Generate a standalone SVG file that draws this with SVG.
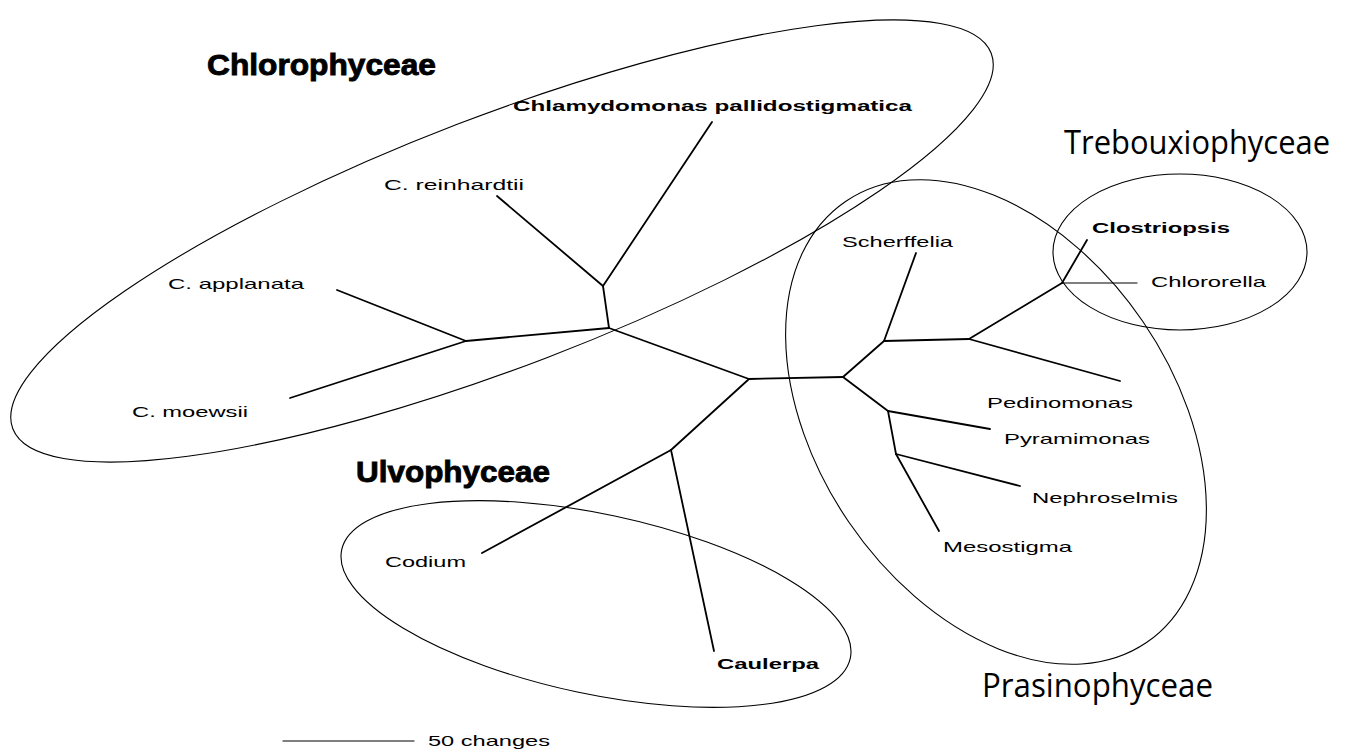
<svg xmlns="http://www.w3.org/2000/svg" width="1345" height="750" viewBox="0 0 1345 750">
<style>
.bg{fill:#fff}
.ell{fill:none;stroke:#000;stroke-width:1.1}
.br{fill:none;stroke:#000;stroke-width:1.8;stroke-linecap:round}
.lab{font-family:"Liberation Sans",Arial,sans-serif;font-size:15px;fill:#000}
.b{font-weight:bold;font-size:14.5px}
.grp{font-family:"Liberation Sans",Arial,sans-serif;font-weight:bold;font-size:30px;fill:#000;stroke:#000;stroke-width:0.9}
.cls{font-family:"Open Sans","Noto Sans",sans-serif;font-size:32px;fill:#000}
</style>
<rect class="bg" x="0" y="0" width="1345" height="750"/>
<g id="clade-ellipses">
<ellipse id="ell-chlorophyceae" class="ell" cx="502" cy="241" rx="524" ry="125" transform="rotate(-21 502 241)"/>
<ellipse id="ell-ulvophyceae" class="ell" cx="596" cy="604" rx="260" ry="90" transform="rotate(12 596 604)"/>
<ellipse id="ell-prasinophyceae" class="ell" cx="996" cy="422" rx="267" ry="178" transform="rotate(55.7 996 422)"/>
<ellipse id="ell-trebouxiophyceae" class="ell" cx="1180" cy="252" rx="127" ry="78"/>
</g>
<g id="connectors">
<line class="br" x1="712" y1="122" x2="603" y2="286"/>
<line class="br" x1="497" y1="196" x2="603" y2="286"/>
<line class="br" x1="603" y1="286" x2="609" y2="328"/>
<line class="br" x1="609" y1="328" x2="466" y2="341"/>
<line class="br" x1="466" y1="341" x2="337" y2="290"/>
<line class="br" x1="466" y1="341" x2="290" y2="398"/>
<line class="br" x1="609" y1="328" x2="749" y2="379"/>
<line class="br" x1="749" y1="379" x2="843" y2="377"/>
<line class="br" x1="749" y1="379" x2="671" y2="450"/>
<line class="br" x1="671" y1="450" x2="482" y2="553"/>
<line class="br" x1="671" y1="450" x2="714" y2="651"/>
<line class="br" x1="843" y1="377" x2="884" y2="341"/>
<line class="br" x1="884" y1="341" x2="916" y2="253"/>
<line class="br" x1="884" y1="341" x2="969" y2="339"/>
<line class="br" x1="969" y1="339" x2="1062" y2="283"/>
<line class="br" x1="1062" y1="283" x2="1087" y2="240"/>
<line class="br" x1="1062" y1="283" x2="1137" y2="283" style="stroke-width:1.2"/>
<line class="br" x1="969" y1="339" x2="1120" y2="381"/>
<line class="br" x1="843" y1="377" x2="888" y2="411"/>
<line class="br" x1="888" y1="411" x2="990" y2="429"/>
<line class="br" x1="888" y1="411" x2="896" y2="454"/>
<line class="br" x1="896" y1="454" x2="1020" y2="486"/>
<line class="br" x1="896" y1="454" x2="939" y2="531"/>
<line class="br" x1="283" y1="741" x2="414" y2="741" style="stroke-width:1.2"/>
</g>
<g id="group-labels">
<text id="t-chlorophyceae" class="grp" x="207" y="75" textLength="229" lengthAdjust="spacingAndGlyphs">Chlorophyceae</text>
<text id="t-ulvophyceae" class="grp" x="356" y="482" textLength="194" lengthAdjust="spacingAndGlyphs">Ulvophyceae</text>
<text id="t-trebouxiophyceae" class="cls" x="1064" y="154" textLength="266" lengthAdjust="spacingAndGlyphs">Trebouxiophyceae</text>
<text id="t-prasinophyceae" class="cls" x="982" y="697" textLength="231" lengthAdjust="spacingAndGlyphs">Prasinophyceae</text>
</g>
<g id="n-chlamydomonas"><text class="lab b" x="513" y="111" textLength="399" lengthAdjust="spacingAndGlyphs">Chlamydomonas pallidostigmatica</text></g>
<g id="n-reinhardtii"><text class="lab" x="384" y="190" textLength="140" lengthAdjust="spacingAndGlyphs">C. reinhardtii</text></g>
<g id="n-applanata"><text class="lab" x="168" y="289" textLength="136" lengthAdjust="spacingAndGlyphs">C. applanata</text></g>
<g id="n-moewsii"><text class="lab" x="132" y="417" textLength="116" lengthAdjust="spacingAndGlyphs">C. moewsii</text></g>
<g id="n-codium"><text class="lab" x="385" y="567" textLength="81" lengthAdjust="spacingAndGlyphs">Codium</text></g>
<g id="n-caulerpa"><text class="lab b" x="717" y="669" textLength="102" lengthAdjust="spacingAndGlyphs">Caulerpa</text></g>
<g id="n-scherffelia"><text class="lab" x="842" y="247" textLength="111" lengthAdjust="spacingAndGlyphs">Scherffelia</text></g>
<g id="n-clostriopsis"><text class="lab b" x="1092" y="233" textLength="138" lengthAdjust="spacingAndGlyphs">Clostriopsis</text></g>
<g id="n-chlororella"><text class="lab" x="1151" y="287" textLength="115" lengthAdjust="spacingAndGlyphs">Chlororella</text></g>
<g id="n-pedinomonas"><text class="lab" x="987" y="408" textLength="146" lengthAdjust="spacingAndGlyphs">Pedinomonas</text></g>
<g id="n-pyramimonas"><text class="lab" x="1004" y="444" textLength="146" lengthAdjust="spacingAndGlyphs">Pyramimonas</text></g>
<g id="n-nephroselmis"><text class="lab" x="1032" y="503" textLength="146" lengthAdjust="spacingAndGlyphs">Nephroselmis</text></g>
<g id="n-mesostigma"><text class="lab" x="943" y="552" textLength="129" lengthAdjust="spacingAndGlyphs">Mesostigma</text></g>
<g id="scale"><text class="lab" x="428" y="746" textLength="122" lengthAdjust="spacingAndGlyphs">50 changes</text></g>
</svg>
